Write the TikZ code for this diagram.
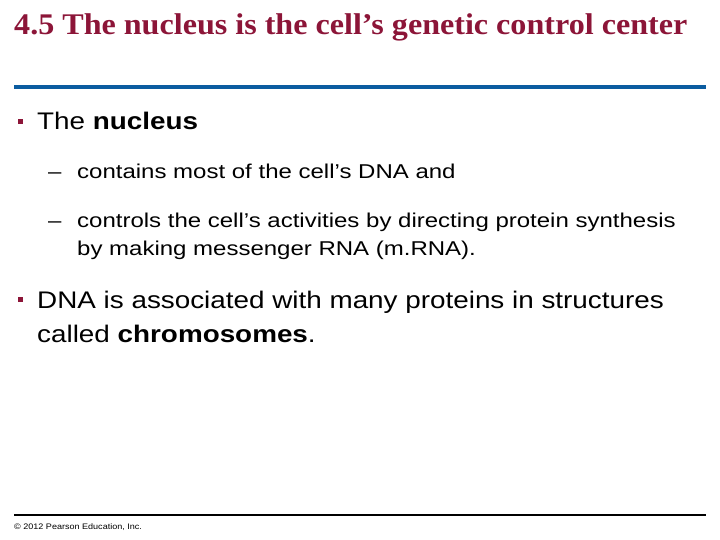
\documentclass[tikz,border=0pt]{standalone}
\usepackage{fontspec}
\setmainfont{Liberation Serif}
\newfontfamily\arial{Liberation Sans}
\definecolor{titlered}{HTML}{8C1538}
\definecolor{ruleblue}{HTML}{0B5CA0}
\newcommand{\hs}[2]{\scalebox{#1}[1]{#2}}
\begin{document}
\begin{tikzpicture}[x=1pt,y=-1pt,
  txt/.style={anchor=base west,inner sep=0pt,font=\arial},
  big/.style={txt,font=\arial\fontsize{24}{28}\selectfont},
  sub/.style={txt,font=\arial\fontsize{20}{24}\selectfont},
  sq/.style={fill=titlered,minimum size=5pt,inner sep=0pt}]
\useasboundingbox (0,0) rectangle (720,540);
\node[anchor=base west,inner sep=0pt,text=titlered,font=\bfseries\fontsize{30}{34}\selectfont] (title) at (14,35) {\hs{1.07}{4.5 The nucleus is the cell’s genetic control center}};
\fill[ruleblue] (14,85) rectangle (706,89);
\node[sq] (b1) at (20,122) {};
\node[big] (t1) at (37,130) {\hs{1.16}{The \textbf{nucleus}}};
\node[sub] (d1) at (48,179) {\hs{1.2}{–}};
\node[sub] (t2) at (77,179) {\hs{1.2}{contains most of the cell’s DNA and}};
\node[sub] (d2) at (48,227) {\hs{1.2}{–}};
\node[sub] (t3) at (77,227) {\hs{1.2}{controls the cell’s activities by directing protein synthesis}};
\node[sub] (t4) at (77,255) {\hs{1.2}{by making messenger RNA (m.RNA).}};
\node[sq] (b2) at (20,299) {};
\node[big] (t5) at (37,308) {\hs{1.16}{DNA is associated with many proteins in structures}};
\node[big] (t6) at (37,342) {\hs{1.16}{called \textbf{chromosomes}.}};
\fill[black] (14,514) rectangle (706,516);
\node[txt,font=\arial\fontsize{8}{9}\selectfont] (foot) at (14,529) {\hs{1.13}{© 2012 Pearson Education, Inc.}};
\end{tikzpicture}
\end{document}
